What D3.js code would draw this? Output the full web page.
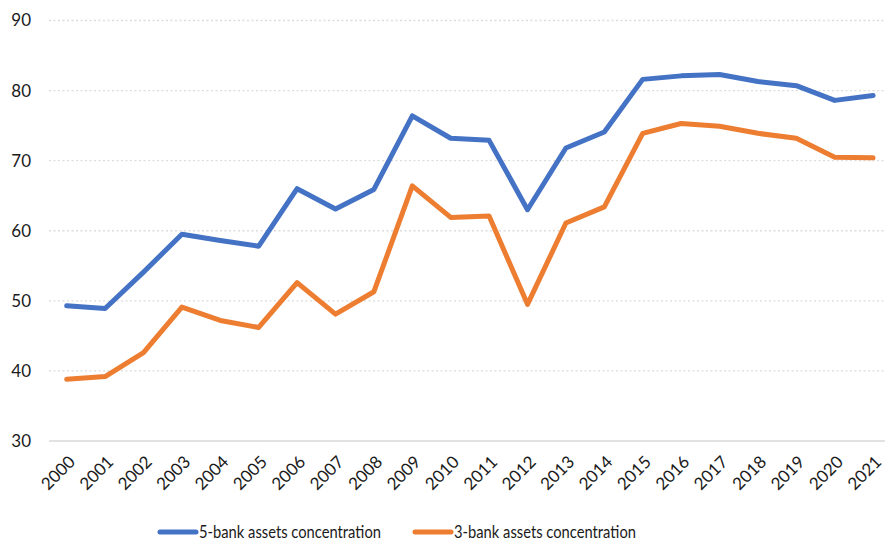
<!DOCTYPE html>
<html>
<head>
<meta charset="utf-8">
<script src="https://cdn.jsdelivr.net/npm/d3@7"></script>
<style>
  html, body { margin: 0; padding: 0; background: #fff; }
  svg { display: block; font-family: Lato, "Open Sans", sans-serif; }
</style>
</head>
<body>
<svg id="chart" width="885" height="541"></svg>
<script>
// Bank assets concentration, 2000-2021 (%)
const years = ["2000","2001","2002","2003","2004","2005","2006","2007","2008","2009","2010",
               "2011","2012","2013","2014","2015","2016","2017","2018","2019","2020","2021"];
const fiveBank = [49.3, 48.9, 54.1, 59.5, 58.6, 57.8, 66.0, 63.1, 65.9, 76.4, 73.2,
                  72.9, 63.0, 71.8, 74.1, 81.6, 82.1, 82.3, 81.3, 80.7, 78.6, 79.3];
const threeBank = [38.8, 39.2, 42.6, 49.1, 47.2, 46.2, 52.6, 48.1, 51.3, 66.4, 61.9,
                   62.1, 49.5, 61.1, 63.4, 73.9, 75.3, 74.9, 73.9, 73.2, 70.5, 70.4];
const yTicks = [30, 40, 50, 60, 70, 80, 90];
const seriesNames = ["5-bank assets concentration", "3-bank assets concentration"];
const seriesColors = ["#4472C4", "#ED7D31"];

const svg = d3.select("#chart");
const plotLeft = 49, plotRight = 885;

const x = d3.scalePoint().domain(years).range([66.7, 873.1]);
const y = d3.scaleLinear().domain([30, 90]).range([441, 20.5]);

// horizontal gridlines (dotted), baseline solid
const grid = svg.append("g");
grid.selectAll("line").data(yTicks).join("line")
  .attr("x1", plotLeft).attr("x2", plotRight)
  .attr("y1", d => y(d)).attr("y2", d => y(d))
  .attr("stroke", d => d === 30 ? "#d9d9d9" : "#dcdcdc")
  .attr("stroke-width", d => d === 30 ? 1.5 : 1.3)
  .attr("stroke-dasharray", d => d === 30 ? null : "2,2.5");

// y axis labels
const yAxis = d3.axisLeft(y).tickValues(yTicks).tickSize(0).tickPadding(0);
svg.append("g")
  .attr("transform", "translate(31,0)")
  .call(yAxis)
  .call(g => g.select(".domain").remove())
  .call(g => g.selectAll("text")
    .attr("font-size", 17).attr("fill", "#1a1a1a")
    .attr("font-family", "Lato, 'Open Sans', sans-serif"));

// x axis labels, rotated
const xAxis = d3.axisBottom(x).tickSize(0).tickPadding(0);
svg.append("g")
  .attr("transform", "translate(0,441)")
  .call(xAxis)
  .call(g => g.select(".domain").remove())
  .call(g => g.selectAll("text")
    .attr("font-size", 17).attr("fill", "#1a1a1a")
    .attr("font-family", "Lato, 'Open Sans', sans-serif")
    .attr("text-anchor", "end")
    .attr("dy", null)
    .attr("transform", "translate(9,22) rotate(-45)"));

// series lines
const line = d3.line().x((d, i) => x(years[i])).y(d => y(d));
[fiveBank, threeBank].forEach((vals, k) => {
  svg.append("path")
    .datum(vals)
    .attr("d", line)
    .attr("fill", "none")
    .attr("stroke", seriesColors[k])
    .attr("stroke-width", 5)
    .attr("stroke-linejoin", "round")
    .attr("stroke-linecap", "round");
});

// legend
const legendX = [160, 415];
const legend = svg.append("g");
seriesNames.forEach((name, k) => {
  const g = legend.append("g").attr("transform", `translate(${legendX[k]},532)`);
  g.append("line").attr("x1", 0).attr("x2", 36).attr("y1", 0).attr("y2", 0)
    .attr("stroke", seriesColors[k]).attr("stroke-width", 5).attr("stroke-linecap", "round");
  g.append("text").attr("x", 39).attr("y", 6)
    .attr("font-size", 17).attr("fill", "#1a1a1a")
    .attr("textLength", 182).attr("lengthAdjust", "spacingAndGlyphs")
    .text(name);
});
</script>
</body>
</html>
